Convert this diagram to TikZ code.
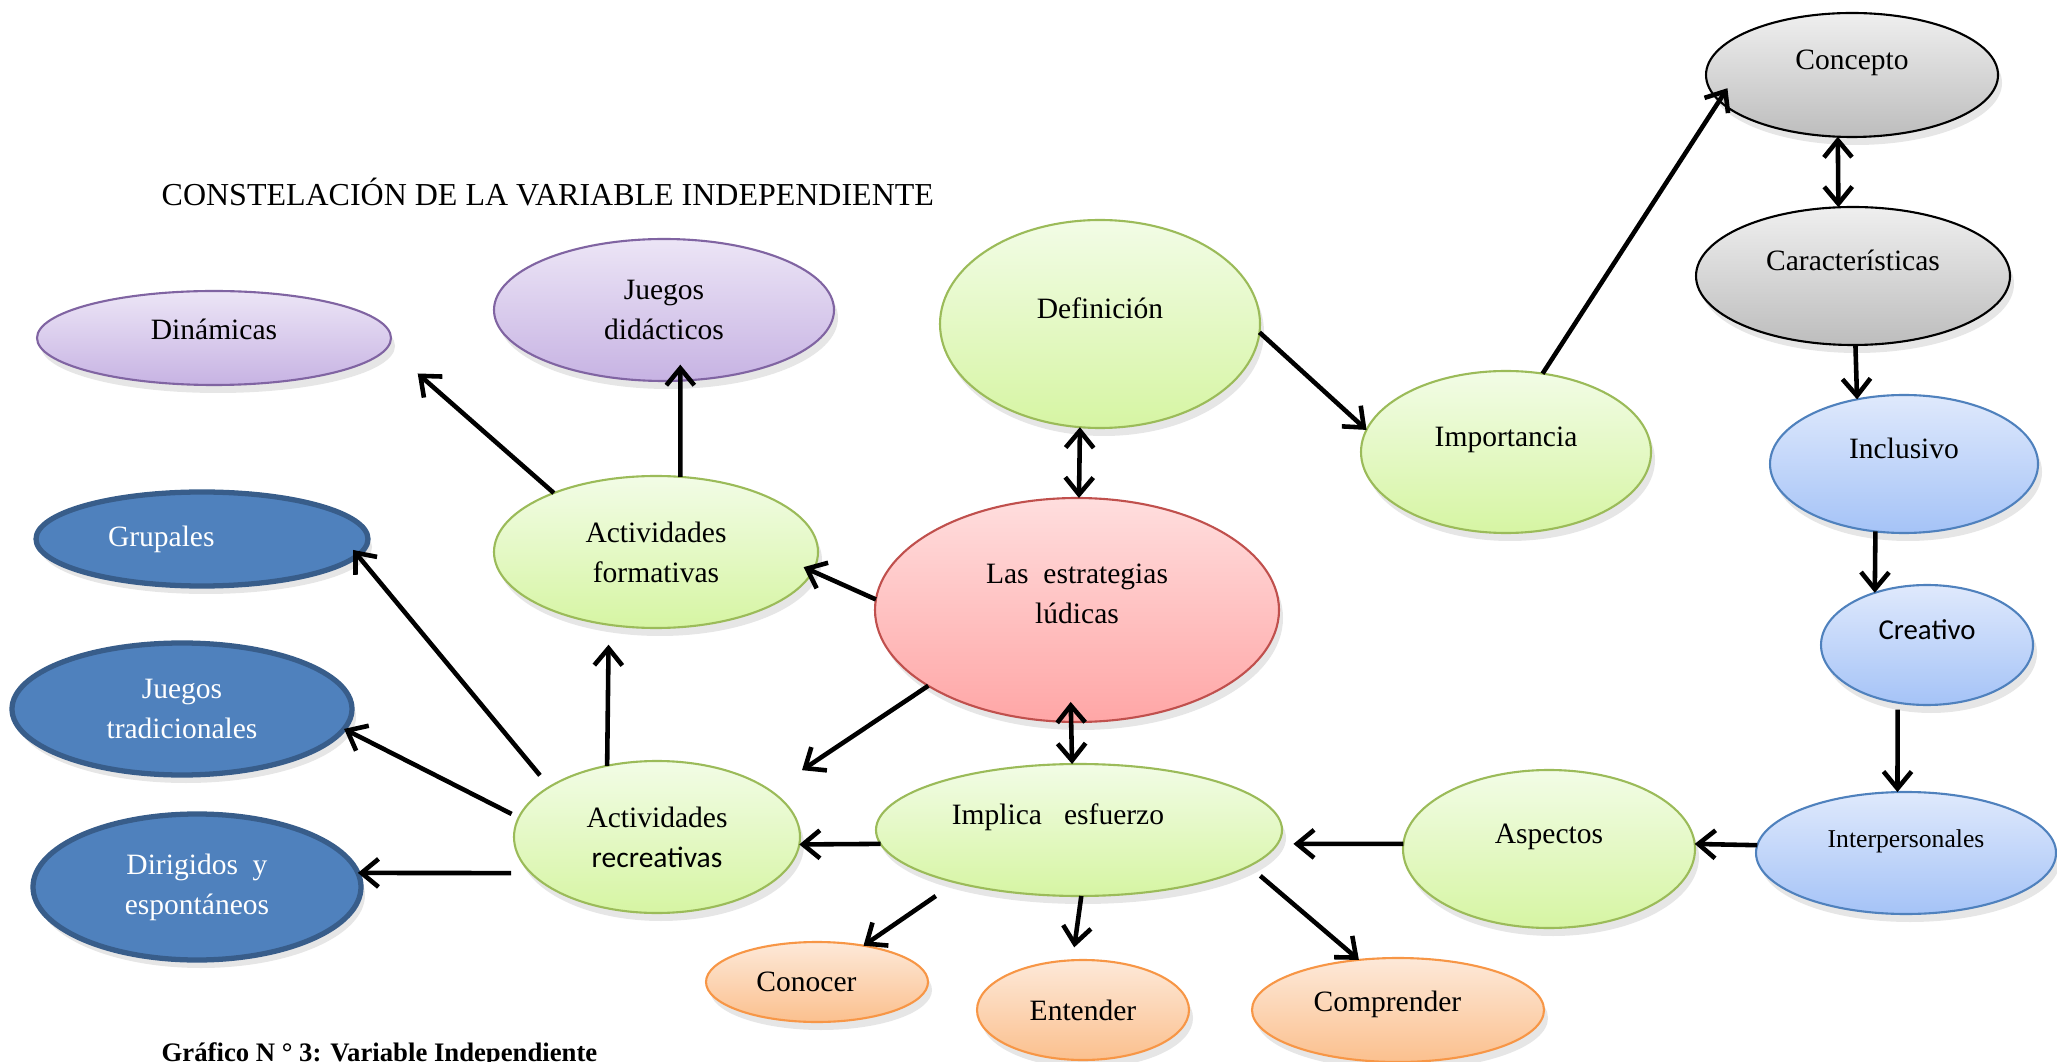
\documentclass[tikz,border=0pt]{standalone}
\usepackage{fontspec}
\setmainfont{Liberation Serif}
\newfontfamily\calib{Carlito}
\usetikzlibrary{shapes.geometric,arrows.meta,shadows}

\definecolor{grnline}{HTML}{9BBB59}
\definecolor{grntop}{HTML}{F2FCE6}
\definecolor{grnbot}{HTML}{D6F5A3}
\definecolor{purpline}{HTML}{8064A2}
\definecolor{purptop}{HTML}{ECE5F6}
\definecolor{purpbot}{HTML}{C7B3E3}
\definecolor{navyfill}{HTML}{4F81BD}
\definecolor{navyline}{HTML}{385D8A}
\definecolor{skyline}{HTML}{4F81BD}
\definecolor{skytop}{HTML}{DFE9FC}
\definecolor{skybot}{HTML}{A5C3F7}
\definecolor{greytop}{HTML}{EFEFEF}
\definecolor{greybot}{HTML}{BDBDBD}
\definecolor{redline}{HTML}{C0504D}
\definecolor{redtop}{HTML}{FFDEDE}
\definecolor{redbot}{HTML}{FFA6A6}
\definecolor{orgline}{HTML}{F79646}
\definecolor{orgtop}{HTML}{FDE9D9}
\definecolor{orgbot}{HTML}{FBC08E}

\begin{document}
\begin{tikzpicture}[x=0.1mm, y=-0.1mm,
    oval/.style={ellipse, inner sep=0pt, outer sep=0pt, align=center,
        font=\fontsize{8.4}{11.4}\selectfont,
        drop shadow={shadow xshift=0.4mm, shadow yshift=-0.8mm, opacity=0.2}},
    grnoval/.style={oval, draw=grnline, line width=0.6pt, top color=grntop, bottom color=grnbot},
    purpoval/.style={oval, draw=purpline, line width=0.6pt, top color=purptop, bottom color=purpbot},
    navyoval/.style={oval, draw=navyline, line width=1.5pt, fill=navyfill, text=white},
    skyoval/.style={oval, draw=skyline, line width=0.6pt, top color=skytop, bottom color=skybot},
    greyoval/.style={oval, draw=black, line width=0.6pt, top color=greytop, bottom color=greybot},
    redoval/.style={oval, draw=redline, line width=0.6pt, top color=redtop, bottom color=redbot},
    orgoval/.style={oval, draw=orgline, line width=0.6pt, top color=orgtop, bottom color=orgbot},
    lift/.style={text height=6pt, text depth=9pt},
    halflift/.style={text height=6pt, text depth=5pt},
    arr/.style={line width=1.3pt, -{Straight Barb[length=1.7mm, width=2.8mm]}},
    darr/.style={line width=1.3pt, {Straight Barb[length=1.7mm, width=2.8mm]}-{Straight Barb[length=1.7mm, width=2.8mm]}}]

    \useasboundingbox (0,0) rectangle (2057,1062);

    \node[anchor=west, inner sep=0pt, font=\fontsize{9.1}{10}\selectfont] (TIT) at (161,192) {CONSTELACIÓN DE LA VARIABLE INDEPENDIENTE};
    \node[anchor=base west, inner sep=0pt, font=\bfseries\fontsize{7.6}{9}\selectfont] (CAP) at (161,1061) {Gráfico N ° 3: Variable Independiente};

    \node[greyoval, lift, minimum width=29.2mm, minimum height=12.4mm] (CON) at (1852,75) {Concepto};
    \node[greyoval, lift, minimum width=31.4mm, minimum height=13.8mm] (CAR) at (1853,276) {Características};
    \node[skyoval, lift, minimum width=26.8mm, minimum height=13.8mm] (INC) at (1904,464) {Inclusivo};
    \node[skyoval, lift, minimum width=21.2mm, minimum height=12mm, font=\calib\fontsize{8.2}{10}\selectfont] (CRE) at (1927,645) {Creativo};
    \node[skyoval, lift, minimum width=30mm, minimum height=12.2mm, font=\fontsize{7.3}{9}\selectfont] (INT) at (1906,853) {Interpersonales};
    \node[grnoval, lift, minimum width=29.2mm, minimum height=15.8mm] (ASP) at (1549,849) {Aspectos};
    \node[grnoval, lift, minimum width=29mm, minimum height=16.2mm] (IMP) at (1506,452) {Importancia};
    \node[grnoval, lift, minimum width=32mm, minimum height=20.8mm] (DEF) at (1100,324) {Definición};
    \node[redoval, minimum width=40.4mm, minimum height=22.4mm] (LE) at (1077,610) {Las\ \ estrategias\\lúdicas\\[-2.4pt]};
    \node[grnoval, lift, minimum width=40.6mm, minimum height=13.2mm] (IE) at (1079,830) {Implica\ \ \ esfuerzo\hspace{12pt}};
    \node[grnoval, minimum width=28.6mm, minimum height=15.2mm] (AR) at (657,837) {Actividades\\{\calib recreativas}};
    \node[grnoval, minimum width=32.4mm, minimum height=15.2mm] (AF) at (656,552) {Actividades\\formativas};
    \node[purpoval, minimum width=34mm, minimum height=14.2mm] (JD) at (664,310) {Juegos\\didácticos};
    \node[purpoval, halflift, minimum width=35.4mm, minimum height=9.4mm] (DIN) at (214,338) {Dinámicas};
    \node[navyoval, minimum width=33.2mm, minimum height=9.4mm, text width=18.8mm, align=left] (GRU) at (202,539) {Grupales};
    \node[navyoval, minimum width=34mm, minimum height=13.2mm] (JT) at (182,709) {Juegos\\tradicionales};
    \node[navyoval, minimum width=32.8mm, minimum height=14.6mm] (DIR) at (197,887) {Dirigidos\ \ y\\espontáneos};
    \node[orgoval, minimum width=22.2mm, minimum height=8mm] (CONO) at (817,982) {Conocer\hspace{6pt}};
    \node[orgoval, minimum width=21.2mm, minimum height=10mm] (ENT) at (1083,1010) {Entender};
    \node[orgoval, halflift, minimum width=29.2mm, minimum height=10.4mm] (COMP) at (1398,1010) {Comprender\hspace{6pt}};

    \draw[arr, shorten >=4mm] (AF.150) -- (DIN.-3);
    \draw[arr, shorten >=-1.6mm] (AF.72) -- (JD.-77);
    \draw[arr, shorten >=-1mm] (LE.177) -- (AF.-7);
    \draw[darr] (DEF.-101) -- (LE.89);
    \draw[arr] (DEF.-3) -- (IMP.171);
    \draw[arr, shorten >=-1.5mm] (IMP.65) -- (CON.-169);
    \draw[darr] (CON.-103) -- (CAR.102);
    \draw[arr] (CAR.-88) -- (INC.126);
    \draw[arr] (INC.-113) -- (CRE.135);
    \draw[arr, shorten <=0.7mm] (CRE.-117) -- (INT.98);
    \draw[arr] (INT.177) -- (ASP.2);
    \draw[arr, shorten >=1.6mm] (ASP.178) -- (IE.-4);
    \draw[darr, shorten <=-2mm] (LE.-93) -- (IE.96);
    \draw[arr, shorten >=3.75mm] (LE.207) -- (AR.22);
    \draw[arr] (IE.184) -- (AR.-3);
    \draw[arr, shorten >=2mm] (AR.125) -- (AF.-123);
    \draw[arr, shorten <=1.5mm, shorten >=-0.7mm] (AR.155) -- (GRU.-6);
    \draw[arr, shorten <=0.8mm] (AR.172) -- (JT.-7);
    \draw[arr, shorten <=2mm] (AR.196) -- (DIR.5);
    \draw[arr, shorten <=2.4mm] (IE.203) -- (CONO.38);
    \draw[arr, shorten >=1.3mm] (IE.-88) -- (ENT.102);
    \draw[arr, shorten <=1.5mm] (IE.-12) -- (COMP.128);
\end{tikzpicture}
\end{document}
